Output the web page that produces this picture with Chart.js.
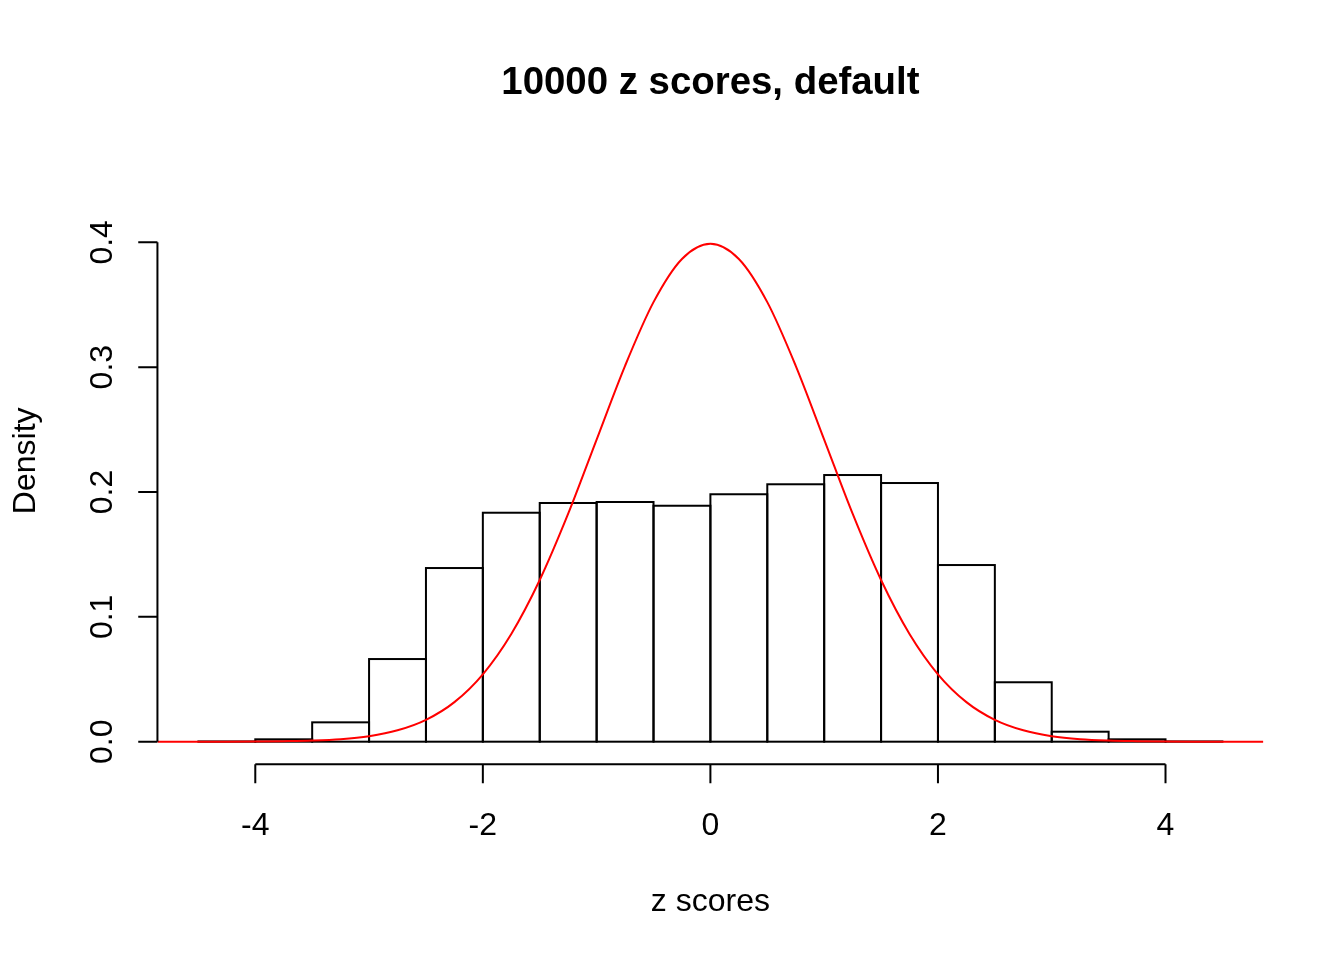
<!DOCTYPE html>
<html>
<head>
<meta charset="utf-8">
<title>10000 z scores, default</title>
<script src="https://cdn.jsdelivr.net/npm/chart.js@4.4.1/dist/chart.umd.min.js"></script>
<style>
  html, body { margin: 0; padding: 0; background: #ffffff; }
  #wrap { width: 1344px; height: 960px; }
  canvas { display: block; }
</style>
</head>
<body>
<div id="wrap"><canvas id="hist" width="1344" height="960"></canvas></div>
<script>
// Histogram bins (width 0.5) and their density heights
const binMids = [-4.25, -3.75, -3.25, -2.75, -2.25, -1.75, -1.25, -0.75, -0.25,
                 0.25, 0.75, 1.25, 1.75, 2.25, 2.75, 3.25, 3.75, 4.25];
const binDensity = [0.0002, 0.0019, 0.0155, 0.0662, 0.1391, 0.1834, 0.1912, 0.1920, 0.1890,
                    0.1982, 0.2062, 0.2136, 0.2072, 0.1415, 0.0476, 0.0080, 0.0019, 0.0002];

// Standard normal density curve, sampled along the x range
const curveX = [-4.86, -4.5, -4.25, -4, -3.75, -3.5, -3.25, -3, -2.75, -2.5, -2.25, -2, -1.75,
                -1.5, -1.25, -1, -0.75, -0.5, -0.25, 0, 0.25, 0.5, 0.75, 1, 1.25, 1.5, 1.75,
                2, 2.25, 2.5, 2.75, 3, 3.25, 3.5, 3.75, 4, 4.25, 4.5, 4.86];
const curveY = [0.0000, 0.0000, 0.0000, 0.0001, 0.0004, 0.0009, 0.0020, 0.0044, 0.0091, 0.0175,
                0.0317, 0.0540, 0.0863, 0.1295, 0.1826, 0.2420, 0.3011, 0.3521, 0.3867, 0.3989,
                0.3867, 0.3521, 0.3011, 0.2420, 0.1826, 0.1295, 0.0863, 0.0540, 0.0317, 0.0175,
                0.0091, 0.0044, 0.0020, 0.0009, 0.0004, 0.0001, 0.0000, 0.0000, 0.0000];

// Axis ticks and labels
const xTicks = [-4, -2, 0, 2, 4];
const xTickLabels = ['-4', '-2', '0', '2', '4'];
const yTicks = [0, 0.1, 0.2, 0.3, 0.4];
const yTickLabels = ['0.0', '0.1', '0.2', '0.3', '0.4'];

const titleText = '10000 z scores, default';
const xTitle = 'z scores';
const yTitle = 'Density';

const FONT = '"Liberation Sans", Arial, Helvetica, sans-serif';
const LINE = 38.4; // one margin line in pixels

// Outline the histogram rectangles the way base graphics does
const barOutline = {
  id: 'barOutline',
  afterDatasetDraw(chart, args) {
    if (args.index !== 0) return;
    const ctx = chart.ctx;
    ctx.save();
    ctx.strokeStyle = '#000000';
    ctx.lineWidth = 2;
    args.meta.data.forEach(bar => {
      const p = bar.getProps(['x', 'y', 'base', 'width'], true);
      ctx.strokeRect(p.x - p.width / 2, p.y, p.width, p.base - p.y);
    });
    ctx.restore();
  }
};

// Axes, ticks, titles
const baseAxes = {
  id: 'baseAxes',
  afterDraw(chart) {
    const ctx = chart.ctx;
    const xs = chart.scales.x, ys = chart.scales.y;
    const area = chart.chartArea;
    const tick = LINE * 0.5;
    ctx.save();
    ctx.strokeStyle = '#000000';
    ctx.fillStyle = '#000000';
    ctx.lineWidth = 2;
    ctx.lineCap = 'butt';

    // x axis
    const xa = area.bottom;
    const x0 = xs.getPixelForValue(xTicks[0]);
    const x1 = xs.getPixelForValue(xTicks[xTicks.length - 1]);
    ctx.beginPath();
    ctx.moveTo(x0, xa); ctx.lineTo(x1, xa);
    xTicks.forEach(v => {
      const px = xs.getPixelForValue(v);
      ctx.moveTo(px, xa); ctx.lineTo(px, xa + tick);
    });
    ctx.stroke();

    // y axis
    const ya = area.left;
    const y0 = ys.getPixelForValue(yTicks[0]);
    const y1 = ys.getPixelForValue(yTicks[yTicks.length - 1]);
    ctx.beginPath();
    ctx.moveTo(ya, y0); ctx.lineTo(ya, y1);
    yTicks.forEach(v => {
      const py = ys.getPixelForValue(v);
      ctx.moveTo(ya, py); ctx.lineTo(ya - tick, py);
    });
    ctx.stroke();

    // tick labels
    ctx.font = '32px ' + FONT;
    ctx.textAlign = 'center';
    ctx.textBaseline = 'alphabetic';
    xTicks.forEach((v, i) => {
      ctx.fillText(xTickLabels[i], xs.getPixelForValue(v), xa + 71);
    });
    yTicks.forEach((v, i) => {
      ctx.save();
      ctx.translate(ya - 45.5, ys.getPixelForValue(v));
      ctx.rotate(-Math.PI / 2);
      ctx.fillText(yTickLabels[i], 0, 0);
      ctx.restore();
    });

    // axis titles
    const cx = (area.left + area.right) / 2;
    const cy = (area.top + area.bottom) / 2;
    ctx.fillText(xTitle, cx, xa + 147);
    ctx.save();
    ctx.translate(area.left - 122, cy);
    ctx.rotate(-Math.PI / 2);
    ctx.fillText(yTitle, 0, 0);
    ctx.restore();

    // main title
    ctx.font = 'bold 38.4px ' + FONT;
    ctx.fillText(titleText, cx, 93.5);
    ctx.restore();
  }
};

new Chart(document.getElementById('hist'), {
  type: 'bar',
  data: {
    datasets: [
      {
        type: 'bar',
        data: binMids.map((m, i) => ({ x: m, y: binDensity[i] })),
        backgroundColor: '#ffffff',
        borderWidth: 0,
        barPercentage: 1,
        categoryPercentage: 1,
        grouped: false,
        order: 1
      },
      {
        type: 'line',
        data: curveX.map((x, i) => ({ x: x, y: curveY[i] })),
        borderColor: '#ff0000',
        borderWidth: 2,
        pointRadius: 0,
        fill: false,
        cubicInterpolationMode: 'monotone',
        order: 0
      }
    ]
  },
  options: {
    responsive: false,
    devicePixelRatio: 1,
    animation: false,
    events: [],
    layout: {
      padding: { left: 4.1 * LINE, right: 2.1 * LINE, top: 4.1 * LINE, bottom: 5.1 * LINE }
    },
    plugins: {
      legend: { display: false },
      title: { display: false },
      tooltip: { enabled: false }
    },
    scales: {
      x: { type: 'linear', min: -4.86, max: 4.86, display: false, offset: false },
      y: { type: 'linear', min: -0.018, max: 0.468, display: false }
    }
  },
  plugins: [barOutline, baseAxes]
});
</script>
</body>
</html>
